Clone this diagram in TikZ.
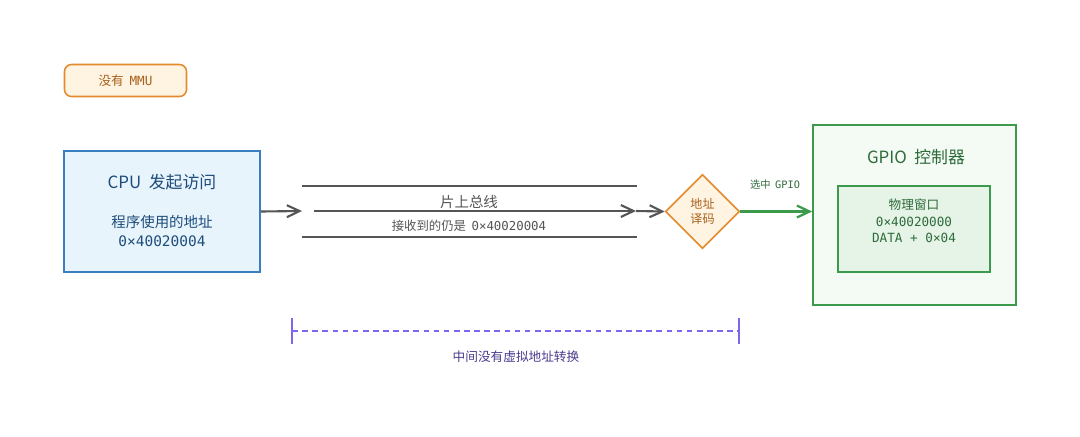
\documentclass[tikz,border=0pt]{standalone}
\usepackage{fontspec}
\setmainfont{Noto Sans CJK SC}
\setmonofont{DejaVu Sans Mono}
\usetikzlibrary{arrows.meta,shapes.geometric}
\definecolor{busgray}{HTML}{555555}
\definecolor{cpublue}{HTML}{3B7EC0}
\definecolor{cpufill}{HTML}{E8F4FC}
\definecolor{cputext}{HTML}{1E4D7B}
\definecolor{decorange}{HTML}{E38B2C}
\definecolor{decfill}{HTML}{FFF3E2}
\definecolor{dectext}{HTML}{A8621B}
\definecolor{gpiogreen}{HTML}{3C9A4C}
\definecolor{gpiofill}{HTML}{F4FBF4}
\definecolor{winfill}{HTML}{E6F4E8}
\definecolor{gpiotext}{HTML}{2E6B3A}
\definecolor{spanpurple}{HTML}{7B68EE}
\definecolor{spantext}{HTML}{4A3A8C}
\tikzset{
  busarrow/.style={line width=1.5pt, color=busgray, -{Straight Barb[length=9pt,width=8.5pt]}},
  busline/.style={line width=1.1pt, color=busgray},
  selarrow/.style={line width=1.6pt, color=gpiogreen, -{Straight Barb[length=9pt,width=8.5pt]}},
}

\begin{document}
\begin{tikzpicture}[x=0.025cm, y=-0.025cm]
			%%%%% START %%%%%
			\useasboundingbox (0, 0) rectangle (1080, 436);
			
			% no MMU tag
			\node[draw=decorange, fill=decfill, line width=1.1pt, rounded corners=5pt,
				minimum width=3.05cm, minimum height=0.8cm, text=dectext, font=\fontsize{9}{11}\selectfont]
				(nommu) at (125.5, 80.5) {没有\ \ \texttt{MMU}};
			
			% CPU box
			\node[draw=cpublue, fill=cpufill, line width=1.1pt, minimum width=4.9cm, minimum height=3.025cm]
				(cpu) at (162, 211.5) {};
			\node[text=cputext, font=\fontsize{12}{14}\selectfont] (cputitle) at (162, 182) {CPU\ \ 发起访问};
			\node[text=cputext, font=\fontsize{10.3}{13}\selectfont, align=center] (cpuaddr) at (162, 231)
				{程序使用的地址\\\texttt{0×40020004}};
			
			% on-chip bus
			\coordinate (busin) at (302, 211);
			\coordinate (busstart) at (314, 211);
			\coordinate (busend) at (636, 211);
			\draw[busline] (302, 186) -- (637, 186);
			\draw[busline] (302, 237) -- (637, 237);
			\draw[busarrow] (cpu.east) -- (busin);
			\draw[busarrow] (busstart) -- (busend);
			\node[text=busgray, font=\fontsize{10.3}{12}\selectfont] (busname) at (469, 202) {片上总线};
			\node[text=busgray, font=\fontsize{8.8}{11}\selectfont] (busrecv) at (469, 226)
				{接收到的仍是\ \ \texttt{0×40020004}};
			
			% decoder
			\node[diamond, draw=decorange, fill=decfill, line width=1.1pt, minimum width=1.85cm, minimum height=1.85cm,
				inner sep=0pt, text=dectext, align=center, font=\fontsize{8.6}{11}\selectfont]
				(decode) at (702.5, 211.5) {地址\\译码};
			\draw[busarrow] (busend) -- (decode.west);
			
			% GPIO controller
			\node[draw=gpiogreen, fill=gpiofill, line width=1.1pt, minimum width=5.075cm, minimum height=4.5cm]
				(gpio) at (914.5, 215) {};
			\node[text=gpiotext, font=\fontsize{12}{14}\selectfont] (gpiotitle) at (916, 157) {GPIO\ \ 控制器};
			\node[draw=gpiogreen, fill=winfill, line width=1.1pt, minimum width=3.8cm, minimum height=2.15cm]
				(window) at (914, 229) {};
			\node[text=gpiotext, align=center, font=\fontsize{9}{11.8}\selectfont]
				(wintext) at (914, 221) {物理窗口\\\texttt{0×40020000}\\\texttt{DATA + 0×04}};
			\draw[selarrow] (decode.east) -- (gpio.west |- decode.east);
			\node[text=gpiotext, font=\fontsize{7.3}{9}\selectfont] (sellabel) at (775, 185) {选中\ \ \texttt{GPIO}};
			
			% span without translation
			\coordinate (spanl) at (292, 331);
			\coordinate (spanr) at (739, 331);
			\draw[spanpurple, line width=0.9pt, dash pattern=on 4pt off 3.2pt] (spanl) -- (spanr);
			\draw[spanpurple, line width=0.9pt] (292, 318) -- (292, 344);
			\draw[spanpurple, line width=0.9pt] (739, 318) -- (739, 344);
			\node[text=spantext, font=\fontsize{9}{11}\selectfont] (spanlabel) at (516, 357) {中间没有虚拟地址转换};
			
			%%%%% END %%%%%
		\end{tikzpicture}
\end{document}
